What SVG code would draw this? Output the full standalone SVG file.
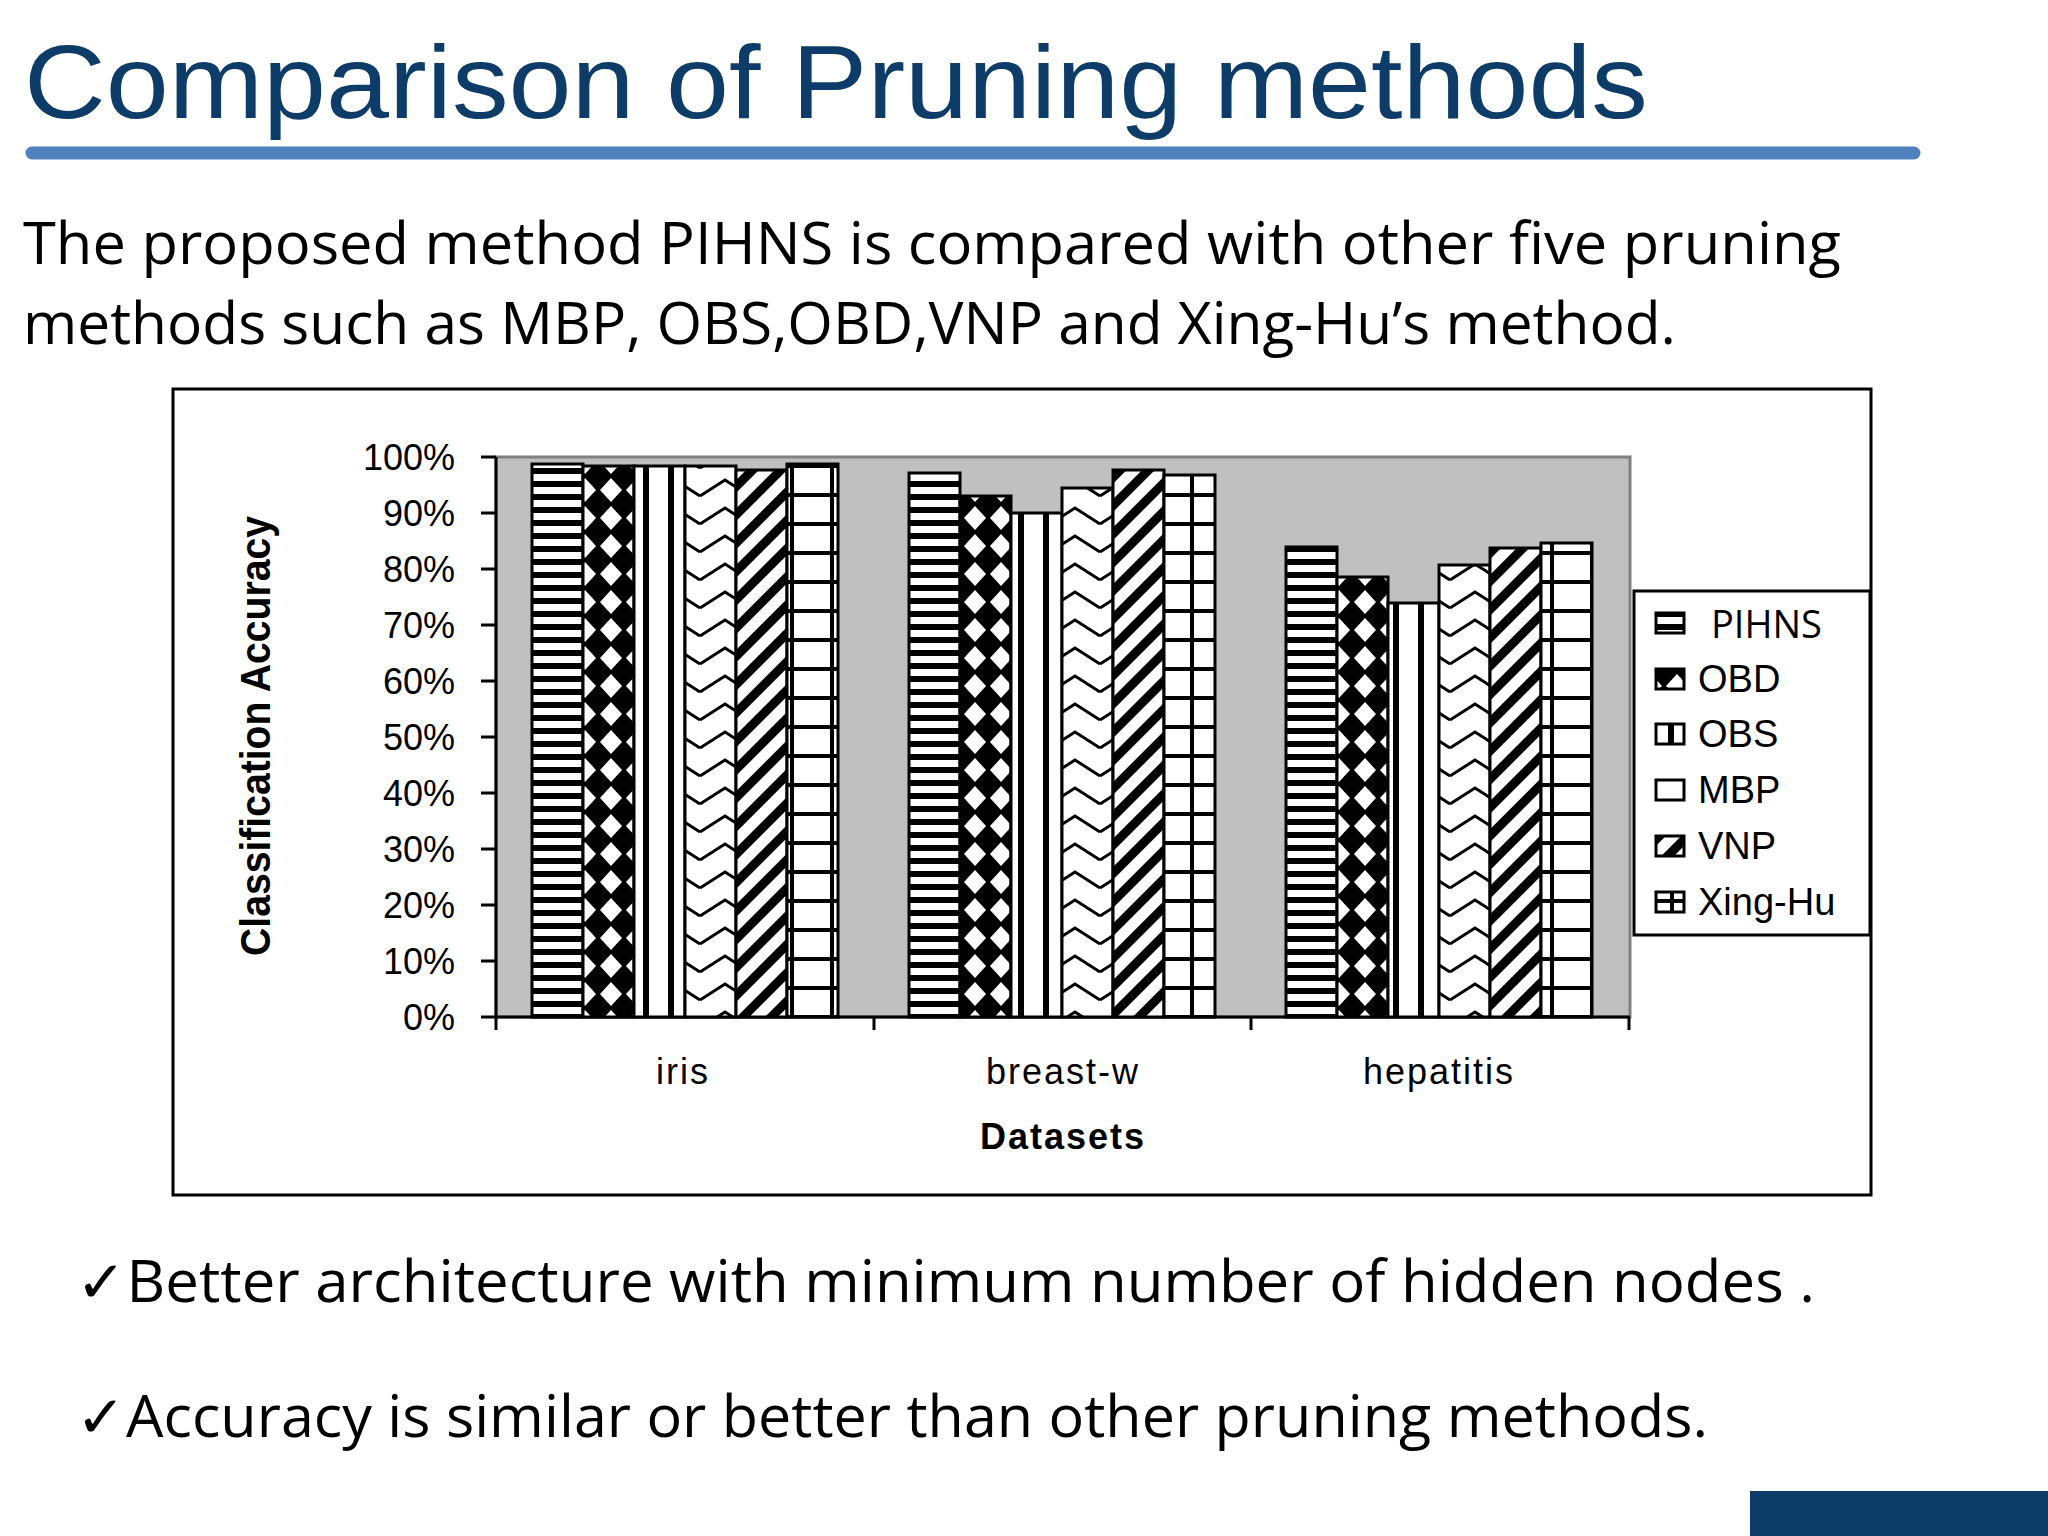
<svg xmlns="http://www.w3.org/2000/svg" width="2048" height="1536" viewBox="0 0 2048 1536">
<style>
.title{font-family:"Liberation Sans",Arial,sans-serif;font-size:104px;fill:#0d3c68}
.body{font-family:"Open Sans","Liberation Sans",sans-serif;font-size:58px;fill:#000}
.ax{font-family:"Liberation Sans",Arial,sans-serif;font-size:36px;fill:#000}
.leg{font-family:"Liberation Sans",Arial,sans-serif;font-size:38px;fill:#000}
.bar{stroke:#000;stroke-width:3}
</style>
<defs>
<pattern id="pH" patternUnits="userSpaceOnUse" width="20" height="13"><rect width="20" height="13" fill="#fff"/><rect width="20" height="6" fill="#000"/></pattern>
<pattern id="pD" patternUnits="userSpaceOnUse" width="26" height="28"><rect width="26" height="28" fill="#000"/><polygon points="13,2 24,14 13,26 2,14" fill="#fff"/></pattern>
<pattern id="pV" patternUnits="userSpaceOnUse" width="25" height="20"><rect width="25" height="20" fill="#fff"/><rect x="18" width="6" height="20" fill="#000"/></pattern>
<pattern id="pZ" patternUnits="userSpaceOnUse" width="50" height="28"><rect width="50" height="28" fill="#fff"/><polyline points="0,20 25,4 50,20" fill="none" stroke="#000" stroke-width="3"/></pattern>
<pattern id="pS" patternUnits="userSpaceOnUse" width="20" height="20" patternTransform="rotate(-45)"><rect width="20" height="20" fill="#fff"/><rect width="20" height="9" fill="#000"/></pattern>
<pattern id="pG" patternUnits="userSpaceOnUse" width="40" height="29"><rect width="40" height="29" fill="#fff"/><rect width="40" height="4" fill="#000"/><rect x="30" width="4" height="29" fill="#000"/></pattern>
</defs>
<rect width="2048" height="1536" fill="#fff"/>
<g id="title"><text class="title" x="24" y="118" textLength="1624" lengthAdjust="spacingAndGlyphs">Comparison of Pruning methods</text>
<line x1="32" y1="153" x2="1914" y2="153" stroke="#4f81bd" stroke-width="13" stroke-linecap="round"/></g>
<g id="intro">
<text class="body" x="23" y="264" textLength="1818" lengthAdjust="spacingAndGlyphs">The proposed method PIHNS is compared with  other five pruning</text>
<text class="body" x="23" y="344" textLength="1653" lengthAdjust="spacingAndGlyphs">methods such as MBP, OBS,OBD,VNP and Xing-Hu’s method.</text>
</g>
<g id="chart">
<rect x="173" y="389" width="1698" height="806" fill="#fff" stroke="#000" stroke-width="3"/>
<rect x="496" y="457" width="1134" height="560" fill="#c0c0c0" stroke="#808080" stroke-width="3"/>
<g id="yaxis" stroke="#000" stroke-width="3">
<line x1="496" y1="457" x2="496" y2="1017"/>
<line x1="481" y1="457" x2="496" y2="457"/><line x1="481" y1="513" x2="496" y2="513"/><line x1="481" y1="569" x2="496" y2="569"/><line x1="481" y1="625" x2="496" y2="625"/><line x1="481" y1="681" x2="496" y2="681"/><line x1="481" y1="737" x2="496" y2="737"/><line x1="481" y1="793" x2="496" y2="793"/><line x1="481" y1="849" x2="496" y2="849"/><line x1="481" y1="905" x2="496" y2="905"/><line x1="481" y1="961" x2="496" y2="961"/><line x1="481" y1="1017" x2="496" y2="1017"/>
<line x1="496" y1="1017" x2="1630" y2="1017"/>
<line x1="496" y1="1017" x2="496" y2="1030"/><line x1="874" y1="1017" x2="874" y2="1030"/><line x1="1251" y1="1017" x2="1251" y2="1030"/><line x1="1629" y1="1017" x2="1629" y2="1030"/>
</g>
<g class="ax" text-anchor="end">
<text x="455" y="470">100%</text><text x="455" y="526">90%</text><text x="455" y="582">80%</text><text x="455" y="638">70%</text><text x="455" y="694">60%</text><text x="455" y="750">50%</text><text x="455" y="806">40%</text><text x="455" y="862">30%</text><text x="455" y="918">20%</text><text x="455" y="974">10%</text><text x="455" y="1030">0%</text>
</g>
<g class="ax" text-anchor="middle" letter-spacing="2">
<text x="683" y="1084">iris</text><text x="1063" y="1084">breast-w</text><text x="1439" y="1084">hepatitis</text>
<text x="1063" y="1149" font-weight="bold">Datasets</text>
</g>
<text x="0" y="0" transform="translate(270,736) rotate(-90)" text-anchor="middle" font-family="'Liberation Sans Narrow','Liberation Sans',sans-serif" font-weight="bold" font-size="42" textLength="440" lengthAdjust="spacingAndGlyphs">Classification Accuracy</text>
<g id="bars" class="bar">
<rect x="532" y="464" width="51" height="553" fill="url(#pH)"/>
<rect x="583" y="466" width="51" height="551" fill="url(#pD)"/>
<rect x="634" y="466" width="51" height="551" fill="url(#pV)"/>
<rect x="685" y="466" width="51" height="551" fill="url(#pZ)"/>
<rect x="736" y="470" width="51" height="547" fill="url(#pS)"/>
<rect x="787" y="464" width="51" height="553" fill="url(#pG)"/>
<rect x="909" y="473" width="51" height="544" fill="url(#pH)"/>
<rect x="960" y="496" width="51" height="521" fill="url(#pD)"/>
<rect x="1011" y="513" width="51" height="504" fill="url(#pV)"/>
<rect x="1062" y="488" width="51" height="529" fill="url(#pZ)"/>
<rect x="1113" y="470" width="51" height="547" fill="url(#pS)"/>
<rect x="1164" y="475" width="51" height="542" fill="url(#pG)"/>
<rect x="1286" y="547" width="51" height="470" fill="url(#pH)"/>
<rect x="1337" y="577" width="51" height="440" fill="url(#pD)"/>
<rect x="1388" y="603" width="51" height="414" fill="url(#pV)"/>
<rect x="1439" y="565" width="51" height="452" fill="url(#pZ)"/>
<rect x="1490" y="548" width="51" height="469" fill="url(#pS)"/>
<rect x="1541" y="543" width="51" height="474" fill="url(#pG)"/>
</g>
<g id="legend">
<rect x="1634" y="591" width="236" height="344" fill="#fff" stroke="#000" stroke-width="3"/>
<g class="bar">
<rect x="1656" y="613" width="28" height="20" fill="url(#pH)"/>
<rect x="1656" y="669" width="28" height="20" fill="url(#pD)"/>
<rect x="1656" y="724" width="28" height="20" fill="url(#pV)"/>
<rect x="1656" y="780" width="28" height="20" fill="#fff"/>
<rect x="1656" y="836" width="28" height="20" fill="url(#pS)"/>
<rect x="1656" y="892" width="28" height="20" fill="url(#pG)"/>
</g>
<text x="1711" y="638" font-family="'Open Sans','Liberation Sans',sans-serif" font-size="38">PIHNS</text>
<text class="leg" x="1698" y="692">OBD</text>
<text class="leg" x="1698" y="747">OBS</text>
<text class="leg" x="1698" y="803">MBP</text>
<text class="leg" x="1698" y="859">VNP</text>
<text class="leg" x="1698" y="915">Xing-Hu</text>
</g>
</g>
<g id="bullets">
<text class="body" x="76" y="1302" textLength="1739" lengthAdjust="spacingAndGlyphs">✓Better architecture with minimum number of  hidden nodes .</text>
<text class="body" x="76" y="1437" textLength="1632" lengthAdjust="spacingAndGlyphs">✓Accuracy is similar or better than other pruning methods.</text>
</g>
<rect x="1750" y="1491" width="298" height="45" fill="#0d3c68"/>
</svg>
